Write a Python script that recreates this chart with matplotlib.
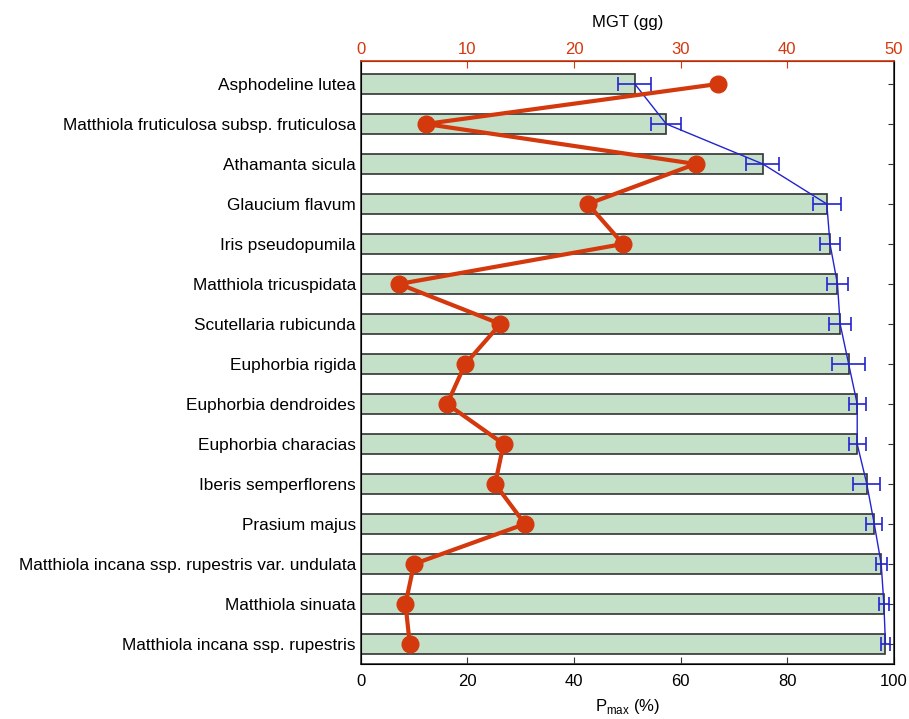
import matplotlib
matplotlib.use("Agg")
import matplotlib.pyplot as plt
import numpy as np

plt.rcParams['font.family'] = ['Liberation Sans', 'DejaVu Sans']

species = [
    'Asphodeline lutea',
    'Matthiola fruticulosa subsp. fruticulosa',
    'Athamanta sicula',
    'Glaucium flavum',
    'Iris pseudopumila',
    'Matthiola tricuspidata',
    'Scutellaria rubicunda',
    'Euphorbia rigida',
    'Euphorbia dendroides',
    'Euphorbia characias',
    'Iberis semperflorens',
    'Prasium majus',
    'Matthiola incana ssp. rupestris var. undulata',
    'Matthiola sinuata',
    'Matthiola incana ssp. rupestris',
]
pmax = [51.4, 57.3, 75.4, 87.4, 88.0, 89.4, 89.9, 91.5, 93.1, 93.1, 94.9, 96.3, 97.6, 98.1, 98.4]
pmax_err = [3.1, 2.85, 3.1, 2.65, 1.8, 1.9, 2.0, 3.1, 1.6, 1.6, 2.5, 1.5, 1.0, 0.9, 0.85]
mgt = [33.5, 6.1, 31.4, 21.3, 24.6, 3.6, 13.1, 9.8, 8.1, 13.4, 12.6, 15.4, 5.0, 4.2, 4.6]

red = '#d4380d'
blue = '#2323d0'
edge = '#333333'

y = np.arange(len(species))

fig = plt.figure(figsize=(9.09, 7.19), dpi=100)
ax = fig.add_axes([0.3968, 0.0765, 0.9835 - 0.3968, 0.9152 - 0.0765])

# Pmax bars with error bars, joined by a thin line through the bar ends
ax.barh(y, pmax, height=0.5, color='#c5e0c8', edgecolor=edge, linewidth=1.2, zorder=2)
ax.plot(pmax, y, color=blue, linewidth=1.0, zorder=3)
ax.errorbar(pmax, y, xerr=pmax_err, fmt='none', ecolor=blue, elinewidth=1.2,
            capsize=5, capthick=1.2, zorder=4)

ax.set_xlim(0, 100)
ax.set_ylim(14.5, -0.575)
ax.set_yticks(y)
ax.set_yticklabels(species, fontsize=12.4)
ax.set_xticks([0, 20, 40, 60, 80, 100])
ax.tick_params(axis='x', direction='in', labelsize=12, length=5, color=edge, pad=7)
ax.tick_params(axis='y', direction='in', length=4, color=edge, right=True, pad=3.5)
ax.set_xlabel('P$_{\\mathregular{max}}$ (%)', fontsize=12, labelpad=6)
for s in ['left', 'bottom', 'right']:
    ax.spines[s].set_color(edge)
    ax.spines[s].set_linewidth(1.2)

# MGT on the top axis
ax2 = ax.twiny()
ax2.plot(mgt, y, color=red, linewidth=3.0, marker='o', markersize=12, zorder=5)
ax2.set_xlim(0, 50)
ax2.set_xticks([0, 10, 20, 30, 40, 50])
ax2.tick_params(axis='x', direction='in', colors=red, labelsize=12, length=5, pad=3)
ax2.spines['top'].set_color(red)
ax2.spines['top'].set_linewidth(1.2)
ax2.set_xlabel('MGT (gg)', fontsize=12, labelpad=11)

fig.savefig('out.png', dpi=100)
